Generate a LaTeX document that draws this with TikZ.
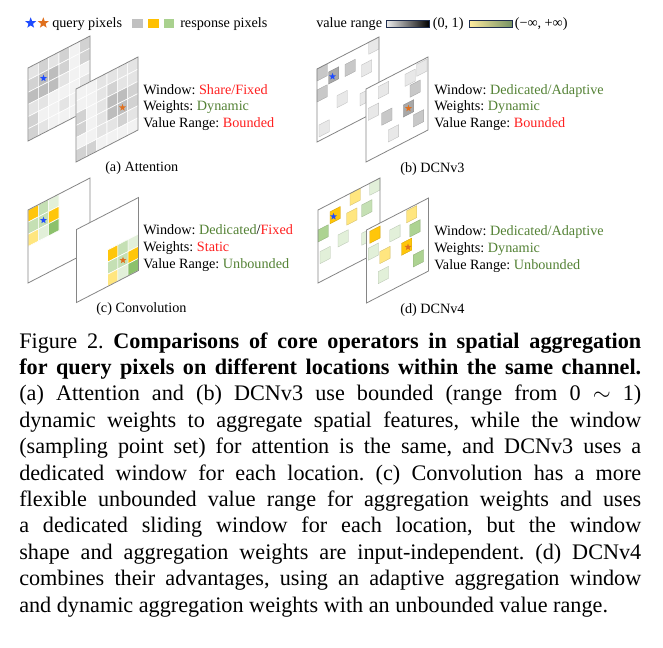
\documentclass[tikz,border=0pt]{standalone}
\usepackage{fontspec}
\setmainfont{Liberation Serif}
\usetikzlibrary{shapes.geometric}
\frenchspacing
\definecolor{gW}{HTML}{F2F2F2}
\definecolor{gL}{HTML}{E4E4E4}
\definecolor{gM}{HTML}{D2D2D2}
\definecolor{gD}{HTML}{BDBDBD}
\definecolor{cG}{HTML}{FFC60A}
\definecolor{cY}{HTML}{FFE67F}
\definecolor{cL}{HTML}{C5E0B4}
\definecolor{cV}{HTML}{E2F0D9}
\definecolor{cM}{HTML}{ADD392}
\definecolor{cD}{HTML}{8CC16C}
\definecolor{dD}{HTML}{A8A8A8}
\definecolor{dM}{HTML}{C8C8C8}
\definecolor{dL}{HTML}{E8E8E8}
\definecolor{tred}{HTML}{FF2020}
\definecolor{tgreen}{HTML}{548235}
\definecolor{sblue}{HTML}{1E4BFF}
\definecolor{sorange}{HTML}{E0701E}
\definecolor{planeline}{HTML}{868686}
\definecolor{barframe}{HTML}{1F2D4D}
\definecolor{legG}{HTML}{C0C0C0}
\definecolor{legY}{HTML}{FFC000}
\definecolor{legGr}{HTML}{A9D18E}
\newcommand\planebg{\fill[white] (0,0) rectangle (62,73);}
\newcommand\planeframe{\draw[pframe] (0,0) rectangle (62,73);}
\newcommand\gcell[3]{\fill[#3, draw=white, line width=0.45pt] ({#1*62/6},{#2*73/6}) rectangle ({(#1+1)*62/6},{(#2+1)*73/6});}
\newcommand\grow[7]{\gcell{0}{#1}{#2}\gcell{1}{#1}{#3}\gcell{2}{#1}{#4}\gcell{3}{#1}{#5}\gcell{4}{#1}{#6}\gcell{5}{#1}{#7}}
\newcommand\dcell[3]{\fill[#3, draw=#3!82!black, line width=0.25pt] (#1,#2) rectangle ({#1+10.3},{#2+12});}
\tikzset{
  pframe/.style={draw=planeline, line width=0.6pt},
  qstar/.style={star, star points=5, star point ratio=2.4, inner sep=0pt, minimum size=#1, draw=none},
  qstar/.default=5.4pt,
  ptext/.style={anchor=base west, inner sep=0pt, font=\fontsize{10.65pt}{12.5pt}\selectfont},
  ctext/.style={anchor=base west, inner sep=0pt, font=\fontsize{16.65pt}{20pt}\selectfont},
  plane/.style={yslant=0.516},
}
\newcommand\cw{466.5pt}
\begin{document}
\begin{tikzpicture}[x=0.75pt,y=-0.75pt]
\useasboundingbox (0,0) rectangle (663,647);
\fill[white] (0,0) rectangle (663,647);

% ---------- legend ----------
\node[qstar=8.6pt, fill=sblue] (lsb) at (30.7,23) {};
\node[qstar=8.6pt, fill=sorange] (lso) at (43.3,23) {};
\node[ptext] (lq) at (52,27) {query pixels};
\fill[legG] (132,18.5) rectangle (142.5,28);
\fill[legY] (148,18.5) rectangle (158.5,28);
\fill[legGr] (163.5,18.5) rectangle (174,28);
\node[ptext] (lr) at (180,27) {response pixels};
\node[ptext] (lv) at (316,27) {value range};
\shade[left color=gray!12, right color=black] (386,20) rectangle (429,27.5);
\draw[barframe, line width=0.5pt] (386,20) rectangle (429,27.5);
\node[ptext] (l01) at (432.5,27) {(0, 1)};
\shade[left color=cY!75!white, right color=legGr!70!black] (469,20) rectangle (512,27.5);
\draw[barframe, line width=0.5pt] (469,20) rectangle (512,27.5);
\node[ptext] (linf) at (514.5,27) {(−∞, +∞)};

% ---------- (a) Attention ----------
\begin{scope}[shift={(28,68)}, plane]
\planebg
\grow{0}{gL}{gM}{gL}{gM}{gW}{gM}
\grow{1}{gM}{gD}{gD}{gM}{gW}{gM}
\grow{2}{gD}{gD}{gD}{gL}{gW}{gW}
\grow{3}{gL}{gL}{gW}{gW}{gW}{gL}
\grow{4}{gM}{gW}{gW}{gL}{gW}{gW}
\grow{5}{gM}{gL}{gW}{gW}{gW}{gW}
\planeframe
\node[qstar, fill=sblue] (sa1) at (15.5,18.25) {};
\end{scope}
\begin{scope}[shift={(76,89)}, plane]
\planebg
\grow{0}{gW}{gW}{gL}{gL}{gL}{gL}
\grow{1}{gW}{gW}{gL}{gM}{gL}{gL}
\grow{2}{gM}{gW}{gL}{gD}{gD}{gM}
\grow{3}{gM}{gW}{gL}{gD}{gD}{gM}
\grow{4}{gW}{gW}{gL}{gL}{gM}{gL}
\grow{5}{gM}{gM}{gW}{gW}{gW}{gW}
\planeframe
\node[qstar, fill=sorange] (sa2) at (46.5,42.6) {};
\end{scope}
\node[ptext] (ta1) at (143,94) {Window: \textcolor{tred}{Share/Fixed}};
\node[ptext] (ta2) at (143,110.7) {Weights: \textcolor{tgreen}{Dynamic}};
\node[ptext] (ta3) at (143,127.4) {Value Range: \textcolor{tred}{Bounded}};
\node[ptext] (la) at (105,171.5) {(a) Attention};

% ---------- (b) DCNv3 ----------
\begin{scope}[shift={(317,69)}, plane]
\planebg
\dcell{0}{0}{dM}
\dcell{11.5}{9}{dD}
\dcell{28}{10}{dM}
\dcell{44.5}{19}{dL}
\dcell{51.7}{0}{dL}
\dcell{0}{21}{dM}
\dcell{20}{37}{dL}
\dcell{43}{47}{dL}
\dcell{2}{57}{dL}
\planeframe
\node[qstar, fill=sblue] (sb1) at (15.5,15.5) {};
\end{scope}
\begin{scope}[shift={(366,89)}, plane]
\planebg
\dcell{12.3}{4}{dL}
\dcell{39}{5.5}{dL}
\dcell{50.7}{1.5}{dL}
\dcell{44}{19}{dM}
\dcell{2.3}{20.5}{dL}
\dcell{15.7}{32.4}{dM}
\dcell{37.3}{35.3}{dD}
\dcell{47.3}{50.4}{dM}
\dcell{22.3}{52.5}{dL}
\planeframe
\node[qstar, fill=sorange] (sb2) at (42.5,41.3) {};
\end{scope}
\node[ptext] (tb1) at (434,94) {Window: \textcolor{tgreen}{Dedicated/Adaptive}};
\node[ptext] (tb2) at (434,110.7) {Weights: \textcolor{tgreen}{Dynamic}};
\node[ptext] (tb3) at (434,127.4) {Value Range: \textcolor{tred}{Bounded}};
\node[ptext] (lb) at (400,172.5) {(b) DCNv3};

% ---------- (c) Convolution ----------
\begin{scope}[shift={(28,210)}, plane]
\planebg
\gcell{0}{0}{cG}\gcell{1}{0}{cL}\gcell{2}{0}{cV}
\gcell{0}{1}{cL}\gcell{1}{1}{cL}\gcell{2}{1}{cG}
\gcell{0}{2}{cY}\gcell{1}{2}{cV}\gcell{2}{2}{cD}
\planeframe
\node[qstar, fill=sblue] (sc1) at (15.5,18.25) {};
\end{scope}
\begin{scope}[shift={(76.5,229.5)}, plane]
\planebg
\gcell{3}{3}{cG}\gcell{4}{3}{cL}\gcell{5}{3}{cV}
\gcell{3}{4}{cL}\gcell{4}{4}{cL}\gcell{5}{4}{cG}
\gcell{3}{5}{cY}\gcell{4}{5}{cV}\gcell{5}{5}{cD}
\planeframe
\node[qstar, fill=sorange] (sc2) at (46.5,54.75) {};
\end{scope}
\node[ptext] (tc1) at (143,234) {Window: \textcolor{tgreen}{Dedicated}/\textcolor{tred}{Fixed}};
\node[ptext] (tc2) at (143,251) {Weights: \textcolor{tred}{Static}};
\node[ptext] (tc3) at (143,268) {Value Range: \textcolor{tgreen}{Unbounded}};
\node[ptext] (lc) at (96,312.5) {(c) Convolution};

% ---------- (d) DCNv4 ----------
\begin{scope}[shift={(318,210)}, plane]
\planebg
\dcell{32}{0}{cY}
\dcell{51.7}{0}{cV}
\dcell{12}{8}{cG}
\dcell{28.7}{18}{cY}
\dcell{43.7}{17.5}{cL}
\dcell{0}{20}{cM}
\dcell{20}{35.3}{cV}
\dcell{43.7}{45.8}{cV}
\dcell{2}{42.7}{cV}
\planeframe
\node[qstar, fill=sblue] (sd1) at (15.5,14.5) {};
\end{scope}
\begin{scope}[shift={(366.5,230)}, plane]
\planebg
\dcell{3.3}{3}{cG}
\dcell{40}{1.5}{cY}
\dcell{23.3}{12}{cV}
\dcell{43.3}{17.3}{cM}
\dcell{13.3}{28.5}{cY}
\dcell{35}{31.4}{cG}
\dcell{1.7}{19.2}{cV}
\dcell{46.7}{49.1}{cM}
\dcell{11.7}{47.7}{cV}
\planeframe
\node[qstar, fill=sorange] (sd2) at (41.5,38.5) {};
\end{scope}
\node[ptext] (td1) at (434,235) {Window: \textcolor{tgreen}{Dedicated/Adaptive}};
\node[ptext] (td2) at (434,252) {Weights: \textcolor{tgreen}{Dynamic}};
\node[ptext] (td3) at (434,269) {Value Range: \textcolor{tgreen}{Unbounded}};
\node[ptext] (ld) at (400,313) {(d) DCNv4};

% ---------- caption ----------
\node[ctext] (cap1) at (19,348) {\makebox[\cw][s]{Figure 2. \textbf{Comparisons of core operators in spatial aggregation}}};
\node[ctext] (cap2) at (19,374.4) {\makebox[\cw][s]{\textbf{for query pixels on different locations within the same channel.}}};
\node[ctext] (cap3) at (19,400.8) {\makebox[\cw][s]{(a) Attention and (b) DCNv3 use bounded (range from 0 $\sim$ 1)}};
\node[ctext] (cap4) at (19,427.2) {\makebox[\cw][s]{dynamic weights to aggregate spatial features, while the window}};
\node[ctext] (cap5) at (19,453.6) {\makebox[\cw][s]{(sampling point set) for attention is the same, and DCNv3 uses a}};
\node[ctext] (cap6) at (19,480) {\makebox[\cw][s]{dedicated window for each location. (c) Convolution has a more}};
\node[ctext] (cap7) at (19,506.4) {\makebox[\cw][s]{flexible unbounded value range for aggregation weights and uses}};
\node[ctext] (cap8) at (19,532.8) {\makebox[\cw][s]{a dedicated sliding window for each location, but the window}};
\node[ctext] (cap9) at (19,559.2) {\makebox[\cw][s]{shape and aggregation weights are input-independent. (d) DCNv4}};
\node[ctext] (cap10) at (19,585.6) {\makebox[\cw][s]{combines their advantages, using an adaptive aggregation window}};
\node[ctext] (cap11) at (19,612) {and dynamic aggregation weights with an unbounded value range.};
\end{tikzpicture}
\end{document}
